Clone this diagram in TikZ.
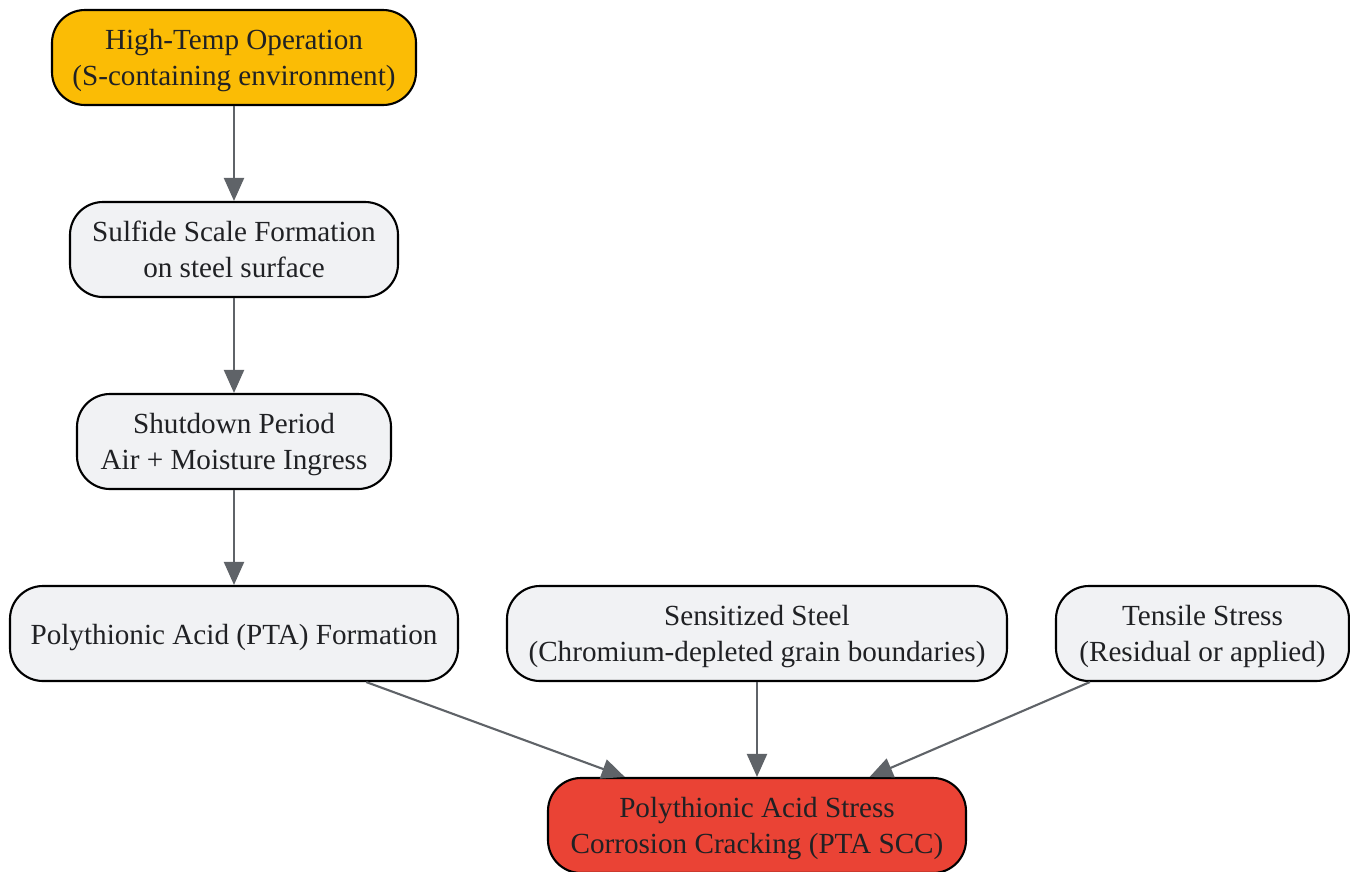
\documentclass[tikz,border=0pt]{standalone}
\usepackage{fontspec}
\setmainfont{Liberation Serif}
\usetikzlibrary{arrows.meta, positioning}
\definecolor{amber}{HTML}{FBBC05}
\definecolor{alert}{HTML}{EA4335}
\definecolor{pale}{HTML}{F1F2F4}
\definecolor{edgegray}{HTML}{5F6368}
\definecolor{ink}{HTML}{202124}

\begin{document}
\begin{tikzpicture}[
  stage/.style={draw=black, line width=0.6pt, rounded corners=0.33cm, fill=pale, align=center,
    minimum height=0.95cm, inner sep=0pt, text=ink, font=\fontsize{8.3pt}{10.3pt}\selectfont,
    text height=18.2pt, text depth=2pt},
  oneline/.style={text height=8pt},
  flow/.style={draw=edgegray, line width=0.6pt, -{Triangle[length=0.23cm, width=0.2cm]}}
]
\useasboundingbox (0,0) rectangle (13.5,-8.71);
\node[stage, fill=amber, minimum width=3.64cm] (hot) at (2.34, -0.575) {High-Temp Operation\\(S-containing environment)};
\node[stage, minimum width=3.28cm] (scale) at (2.34, -2.495) {Sulfide Scale Formation\\on steel surface};
\node[stage, minimum width=3.14cm] (shut) at (2.34, -4.415) {Shutdown Period\\Air + Moisture Ingress};
\node[stage, oneline, minimum width=4.48cm] (pta) at (2.34, -6.335) {Polythionic Acid (PTA) Formation};
\node[stage, minimum width=5.00cm] (sens) at (7.57, -6.335) {Sensitized Steel\\(Chromium-depleted grain boundaries)};
\node[stage, minimum width=2.93cm] (tens) at (12.025, -6.335) {Tensile Stress\\(Residual or applied)};
\node[stage, fill=alert, minimum width=4.18cm] (scc) at (7.57, -8.255) {Polythionic Acid Stress\\Corrosion Cracking (PTA SCC)};
\draw[flow] (hot) -- (scale);
\draw[flow] (scale) -- (shut);
\draw[flow] (shut) -- (pta);
\draw[flow] (pta) -- (scc);
\draw[flow] (sens) -- (scc);
\draw[flow] (tens) -- (scc);
\end{tikzpicture}
\end{document}
